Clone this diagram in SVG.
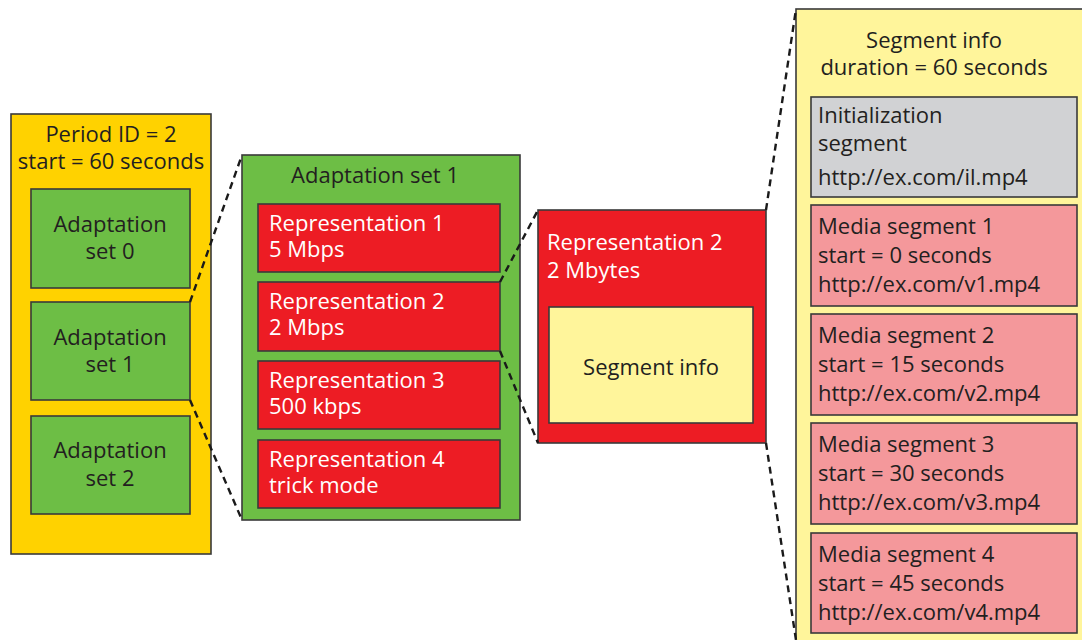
<svg xmlns="http://www.w3.org/2000/svg" width="1082" height="640" viewBox="0 0 1082 640">
  <style>
    text { font-family: "Open Sans", "Liberation Sans", sans-serif; font-size: 22px; fill: #231f20; }
    .box { stroke: #3a3a3a; stroke-width: 1.6; }
    .period { fill: #ffd200; }
    .aset { fill: #6dbe45; }
    .rep { fill: #ed1c24; }
    .seginfo { fill: #fff59b; }
    .init { fill: #d1d2d4; }
    .media { fill: #f4989b; }
    .white { fill: #ffffff; }
    .mid { text-anchor: middle; }
    .zoom { fill: none; stroke: #1a1a1a; stroke-width: 2.4; stroke-dasharray: 7 5; }
  </style>
  <rect width="1082" height="640" fill="#ffffff"/>

  <!-- Period -->
  <g id="period">
    <rect class="box period" x="11" y="114" width="200" height="440"/>
    <text class="mid" x="111" y="142">Period ID = 2</text>
    <text class="mid" x="111" y="169">start = 60 seconds</text>
  </g>
  <g id="aset0">
    <rect class="box aset" x="31" y="189" width="159" height="99"/>
    <text class="mid" x="110" y="232">Adaptation</text>
    <text class="mid" x="110" y="259">set 0</text>
  </g>
  <g id="aset1">
    <rect class="box aset" x="31" y="302" width="159" height="98"/>
    <text class="mid" x="110" y="345">Adaptation</text>
    <text class="mid" x="110" y="372">set 1</text>
  </g>
  <g id="aset2">
    <rect class="box aset" x="31" y="416" width="159" height="98"/>
    <text class="mid" x="110" y="458">Adaptation</text>
    <text class="mid" x="110" y="486">set 2</text>
  </g>

  <!-- Adaptation set 1 expanded -->
  <g id="aset1-detail">
    <rect class="box aset" x="242" y="155" width="278" height="365"/>
    <text class="mid" x="375" y="183">Adaptation set 1</text>
  </g>
  <g id="rep1">
    <rect class="box rep" x="258" y="204" width="242" height="68"/>
    <text class="white" x="269" y="231">Representation 1</text>
    <text class="white" x="269" y="257">5 Mbps</text>
  </g>
  <g id="rep2">
    <rect class="box rep" x="258" y="282" width="242" height="69"/>
    <text class="white" x="269" y="309">Representation 2</text>
    <text class="white" x="269" y="335">2 Mbps</text>
  </g>
  <g id="rep3">
    <rect class="box rep" x="258" y="361" width="242" height="68"/>
    <text class="white" x="269" y="388">Representation 3</text>
    <text class="white" x="269" y="414">500 kbps</text>
  </g>
  <g id="rep4">
    <rect class="box rep" x="258" y="440" width="242" height="68"/>
    <text class="white" x="269" y="467">Representation 4</text>
    <text class="white" x="269" y="493">trick mode</text>
  </g>

  <!-- Representation 2 expanded -->
  <g id="rep2-detail">
    <rect class="box rep" x="538" y="210" width="228" height="233"/>
    <text class="white" x="547" y="250">Representation 2</text>
    <text class="white" x="547" y="278">2 Mbytes</text>
  </g>
  <g id="seginfo-small">
    <rect class="box seginfo" x="549" y="307" width="204" height="116"/>
    <text class="mid" x="651" y="375">Segment info</text>
  </g>

  <!-- Segment info expanded -->
  <g id="seginfo-detail">
    <rect class="box seginfo" x="796" y="9" width="300" height="650"/>
    <text class="mid" x="934" y="48">Segment info</text>
    <text class="mid" x="934" y="75">duration = 60 seconds</text>
  </g>
  <g id="init-seg">
    <rect class="box init" x="811" y="97" width="266" height="100"/>
    <text x="818" y="123">Initialization</text>
    <text x="818" y="151">segment</text>
    <text x="818" y="185">http://ex.com/il.mp4</text>
  </g>
  <g id="media-seg1">
    <rect class="box media" x="811" y="205" width="266" height="101"/>
    <text x="818" y="234">Media segment 1</text>
    <text x="818" y="263">start = 0 seconds</text>
    <text x="818" y="292">http://ex.com/v1.mp4</text>
  </g>
  <g id="media-seg2">
    <rect class="box media" x="811" y="314" width="266" height="101"/>
    <text x="818" y="343">Media segment 2</text>
    <text x="818" y="372">start = 15 seconds</text>
    <text x="818" y="401">http://ex.com/v2.mp4</text>
  </g>
  <g id="media-seg3">
    <rect class="box media" x="811" y="423" width="266" height="101"/>
    <text x="818" y="452">Media segment 3</text>
    <text x="818" y="481">start = 30 seconds</text>
    <text x="818" y="510">http://ex.com/v3.mp4</text>
  </g>
  <g id="media-seg4">
    <rect class="box media" x="811" y="533" width="266" height="100"/>
    <text x="818" y="562">Media segment 4</text>
    <text x="818" y="591">start = 45 seconds</text>
    <text x="818" y="620">http://ex.com/v4.mp4</text>
  </g>

  <!-- zoom-in connectors -->
  <g id="connectors">
    <line class="zoom" x1="190" y1="302" x2="242" y2="155"/>
    <line class="zoom" x1="190" y1="400" x2="242" y2="520"/>
    <line class="zoom" x1="500" y1="282" x2="538" y2="210"/>
    <line class="zoom" x1="500" y1="351" x2="538" y2="443"/>
    <line class="zoom" x1="766" y1="210" x2="796" y2="9"/>
    <line class="zoom" x1="766" y1="443" x2="796" y2="640"/>
  </g>
</svg>
